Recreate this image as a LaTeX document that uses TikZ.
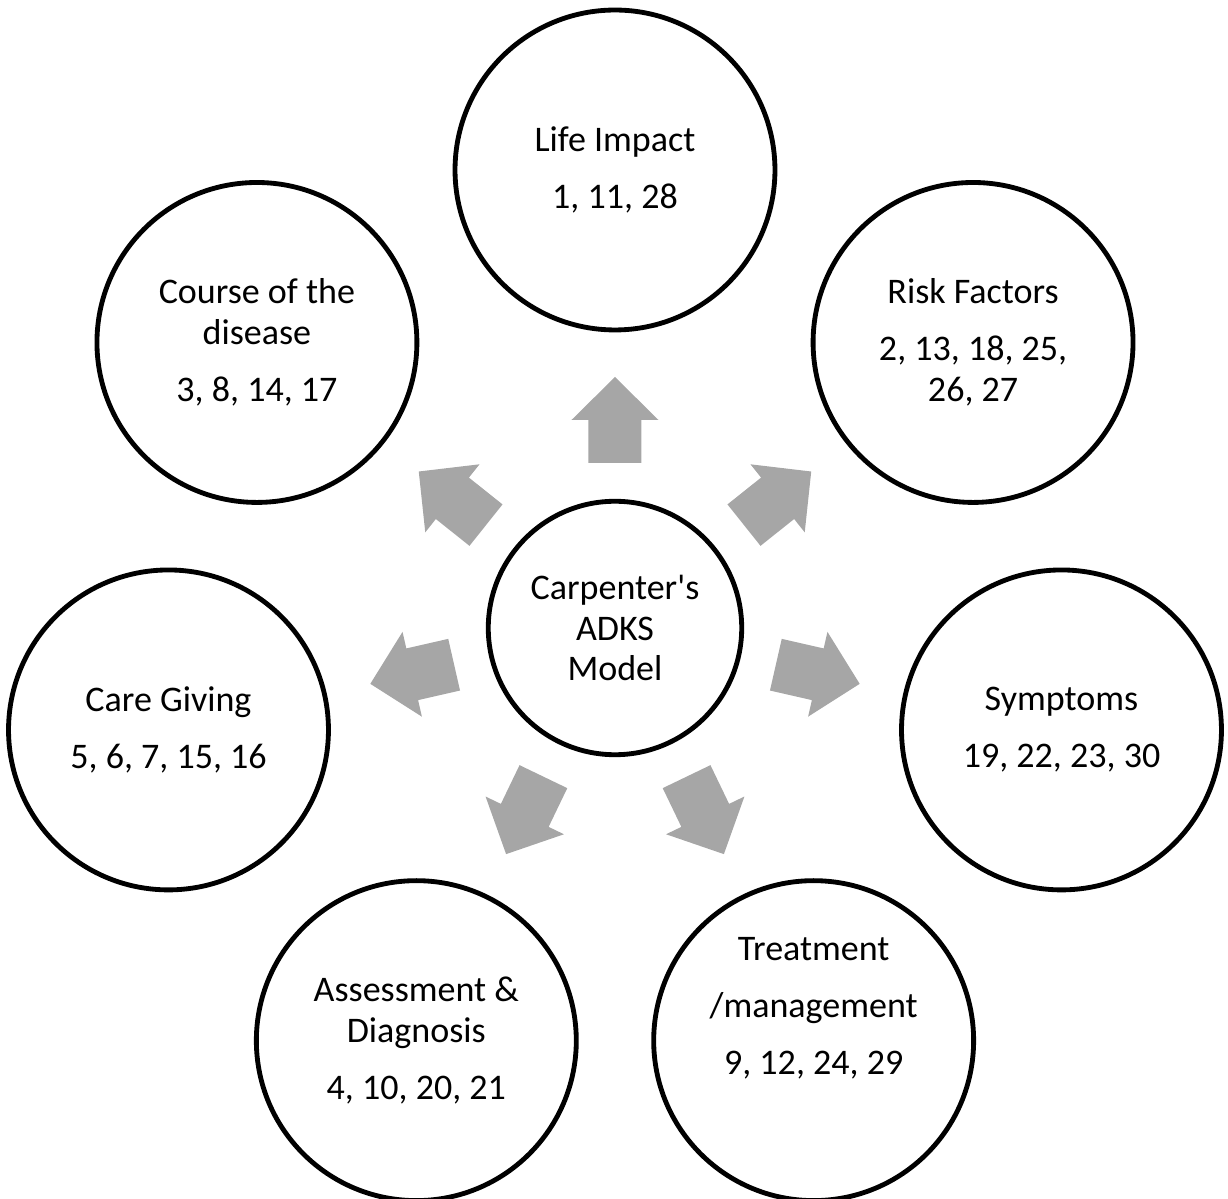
\documentclass[tikz,border=0pt]{standalone}
\usepackage{fontspec}
\setmainfont{Carlito}
\definecolor{arrowgray}{RGB}{166,166,166}
\newcommand{\topicfont}{\fontsize{20.5}{23.3}\selectfont}
\tikzset{
  topic/.style={circle,draw,line width=2.75pt,minimum size=6.4cm,inner sep=0pt,
    align=center,font=\topicfont},
  hub/.style={topic,minimum size=5.07cm},
  blockarrow/.pic={
    \fill[arrowgray] (0,-26.5)--(43,-26.5)--(43,-43.5)--(86,0)--(43,43.5)--(43,26.5)--(0,26.5)--cycle;}
}
\begin{document}
\begin{tikzpicture}[x=0.02cm,y=0.02cm]
                \def\R{458} \def\pgap{0.32cm}
                \useasboundingbox (-615,-571) rectangle (613,628);
                \node[hub] (adks) at (0,0) {Carpenter\textquotesingle s\\ADKS\\Model};
                %===========================================
                \node[topic] (life) at (90:\R) {Life Impact\\[\pgap]1, 11, 28};
                \node[topic] (risk) at (38.57:\R) {Risk Factors\\[\pgap]2, 13, 18, 25,\\26, 27};
                \node[topic] (symp) at (-12.86:\R) {Symptoms\\[\pgap]19, 22, 23, 30};
                \node[topic] (treat) at (-64.29:\R) {Treatment\\[\pgap]/management\\[\pgap]9, 12, 24, 29\\[\pgap]\strut};
                \node[topic] (assess) at (-115.71:\R) {Assessment \&\\Diagnosis\\[\pgap]4, 10, 20, 21};
                \node[topic] (care) at (-167.14:\R) {Care Giving\\[\pgap]5, 6, 7, 15, 16};
                \node[topic] (course) at (141.43:\R) {Course of the\\disease\\[\pgap]3, 8, 14, 17};
                %===========================================
                \foreach \k in {0,...,6}{
                    \pic[rotate={90-\k*360/7}] at ({90-\k*360/7}:165) {blockarrow};}
            \end{tikzpicture}
\end{document}
